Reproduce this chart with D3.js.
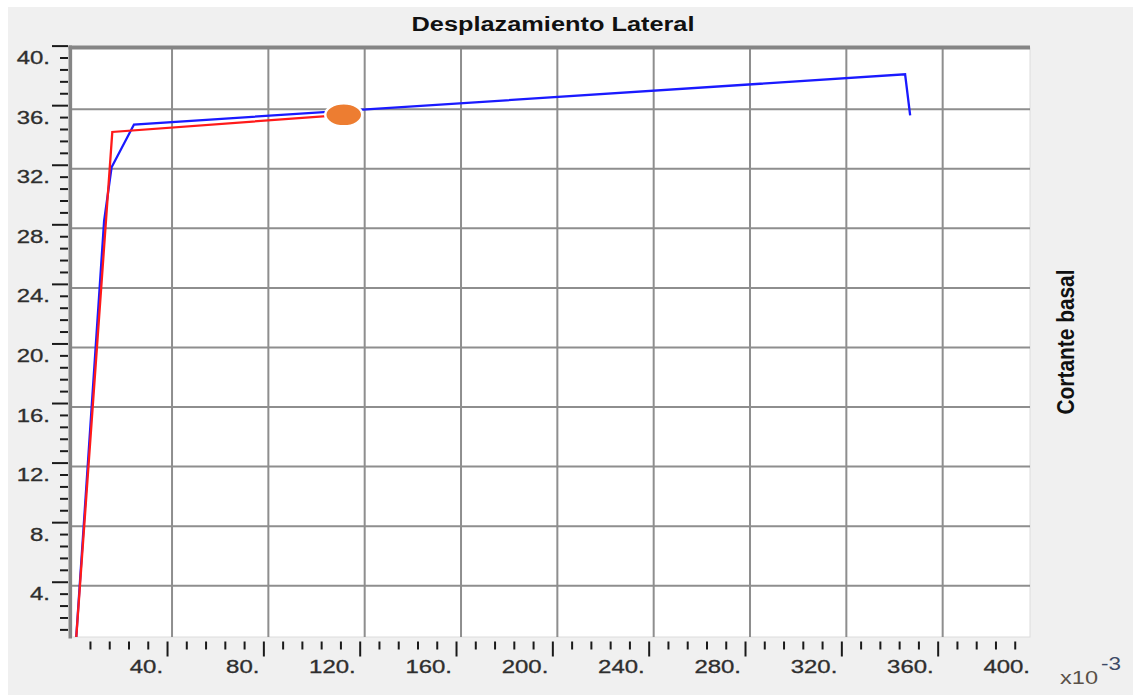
<!DOCTYPE html>
<html>
<head>
<meta charset="utf-8">
<script src="https://cdn.jsdelivr.net/npm/d3@7"></script>
<style>
  html, body { margin: 0; padding: 0; background: #ffffff; }
  svg { display: block; }
  text { font-family: "Liberation Sans", Arial, sans-serif; }
</style>
</head>
<body>
<svg id="chart" width="1133" height="695"></svg>
<script>
// Pushover curves: lateral displacement (x10^-3) vs base shear
const blueDisp  = [0, 11.8, 14.9, 24.2, 344.4, 346.5];
const blueShear = [0, 28.5, 32.1, 34.97, 38.34, 35.59];
const redDisp   = [0, 15.2, 111.3];
const redShear  = [0, 34.47, 35.62];

const xMajorTicks = [40, 80, 120, 160, 200, 240, 280, 320, 360, 400];
const yMajorTicks = [4, 8, 12, 16, 20, 24, 28, 32, 36, 40];
const xMinorStep = 8;
const yMinorStep = 0.8;

const titleText = "Desplazamiento Lateral";
const yTitleText = "Cortante basal";

const svg = d3.select("#chart");
const W = 1133, H = 695;
const plot = { left: 72, top: 48, right: 1030, bottom: 637 };

const x = d3.scaleLinear().domain([0, 400]).range([75.7, 1039]);
const y = d3.scaleLinear().domain([0, 40]).range([645.3, 49.6]);

// window background
svg.append("rect").attr("x", 8).attr("y", 7).attr("width", W - 8).attr("height", H - 7).attr("fill", "#f0f0f0");

// plot area
svg.append("rect")
  .attr("x", plot.left).attr("y", plot.top)
  .attr("width", plot.right - plot.left).attr("height", plot.bottom - plot.top)
  .attr("fill", "#ffffff").attr("stroke", "#dcdcdc").attr("stroke-width", 1);

svg.append("clipPath").attr("id", "plotClip").append("rect")
  .attr("x", plot.left).attr("y", plot.top)
  .attr("width", plot.right - plot.left).attr("height", plot.bottom - plot.top);

// grid
const grid = svg.append("g").attr("clip-path", "url(#plotClip)")
  .attr("stroke", "#8e8e8e").attr("stroke-width", 2);
grid.selectAll("line.gx").data(xMajorTicks.filter(v => x(v) < plot.right - 2)).join("line")
  .attr("class", "gx")
  .attr("x1", d => x(d)).attr("x2", d => x(d))
  .attr("y1", plot.top).attr("y2", plot.bottom);
grid.selectAll("line.gy").data(yMajorTicks.filter(v => y(v) > plot.top + 2)).join("line")
  .attr("class", "gy")
  .attr("x1", plot.left).attr("x2", plot.right)
  .attr("y1", d => y(d)).attr("y2", d => y(d));

// frame: top and left borders
svg.append("rect").attr("x", 68.5).attr("y", 45.5).attr("width", plot.right - 68.5).attr("height", 4).attr("fill", "#858585");
svg.append("rect").attr("x", 68.5).attr("y", 45.5).attr("width", 3.5).attr("height", 593).attr("fill", "#858585");

// curves
const line = d3.line().x(d => x(d[0])).y(d => y(d[1]));
const curves = svg.append("g").attr("clip-path", "url(#plotClip)");
curves.append("path")
  .datum(blueDisp.map((d, i) => [d, blueShear[i]]))
  .attr("d", line).attr("fill", "none")
  .attr("stroke", "#1a1aff").attr("stroke-width", 2.3).attr("stroke-linejoin", "miter");
curves.append("path")
  .datum(redDisp.map((d, i) => [d, redShear[i]]))
  .attr("d", line).attr("fill", "none")
  .attr("stroke", "#ff1a1a").attr("stroke-width", 2.3).attr("stroke-linejoin", "miter");

// performance point at the end of the red curve
const last = redDisp.length - 1;
svg.append("ellipse")
  .attr("cx", x(redDisp[last])).attr("cy", y(redShear[last]))
  .attr("rx", 18.5).attr("ry", 11.5)
  .attr("fill", "#ed7d31").attr("stroke", "#ffffff").attr("stroke-width", 2.5);

// stretch helper for text widths
function stretch(sel, k) {
  sel.each(function () {
    const len = this.getComputedTextLength();
    d3.select(this).attr("textLength", len * k).attr("lengthAdjust", "spacingAndGlyphs");
  });
}

const fmt = d => d + ".";

// x axis (ticks sit just left of the grid lines)
const xMinor = d3.range(xMinorStep, 400, xMinorStep).filter(v => v % 40 !== 0 && x(v) - 5 < plot.right);
const xAxisMinor = svg.append("g").attr("transform", "translate(-5,641.5)")
  .call(d3.axisBottom(x).tickValues(xMinor).tickSize(8).tickFormat(""));
const xAxisMajor = svg.append("g").attr("transform", "translate(-5,641.5)")
  .call(d3.axisBottom(x).tickValues(xMajorTicks).tickSize(15).tickFormat(fmt));
[xAxisMinor, xAxisMajor].forEach(g => {
  g.select(".domain").remove();
  g.selectAll("line").attr("stroke", "#1a1a1a").attr("stroke-width", 2);
});
xAxisMajor.selectAll(".tick").filter(d => x(d) - 5 > plot.right).select("line").remove();
xAxisMajor.selectAll("text")
  .attr("x", -4.5).attr("y", 31.8).attr("dy", null)
  .attr("text-anchor", "end")
  .attr("fill", "#2e2e2e").attr("font-size", 18)
  .attr("stroke", "#2e2e2e").attr("stroke-width", 0.3);
stretch(xAxisMajor.selectAll("text"), 1.33);

// y axis
const yMinor = d3.range(1, 50).map(i => +(i * yMinorStep).toFixed(1)).filter(v => v < 40 && Math.abs(v / 4 - Math.round(v / 4)) > 1e-6);
const yAxisMinor = svg.append("g").attr("transform", "translate(68,-4)")
  .call(d3.axisLeft(y).tickValues(yMinor).tickSize(8).tickFormat(""));
const yAxisMajor = svg.append("g").attr("transform", "translate(68,-4)")
  .call(d3.axisLeft(y).tickValues(yMajorTicks).tickSize(16).tickFormat(fmt));
[yAxisMinor, yAxisMajor].forEach(g => {
  g.select(".domain").remove();
  g.selectAll("line").attr("stroke", "#1a1a1a").attr("stroke-width", 2);
});
yAxisMajor.selectAll("text")
  .attr("x", -18).attr("y", 18).attr("dy", null)
  .attr("text-anchor", "end")
  .attr("fill", "#2e2e2e").attr("font-size", 18)
  .attr("stroke", "#2e2e2e").attr("stroke-width", 0.3);
stretch(yAxisMajor.selectAll("text"), 1.33);

// exponent note
const expo = svg.append("text").attr("x", 1060).attr("y", 684)
  .attr("fill", "#5a5048").attr("font-size", 19);
expo.append("tspan").attr("textLength", 38).attr("lengthAdjust", "spacingAndGlyphs").text("x10");
expo.append("tspan").attr("dx", 3).attr("dy", -14).attr("fill", "#3d4a66")
  .attr("textLength", 20).attr("lengthAdjust", "spacingAndGlyphs").text("-3");

// titles
const title = svg.append("text")
  .attr("x", 553).attr("y", 31)
  .attr("text-anchor", "middle").attr("font-weight", "bold")
  .attr("font-size", 20).attr("fill", "#111111")
  .text(titleText);
title.attr("textLength", 283).attr("lengthAdjust", "spacingAndGlyphs");

svg.append("text")
  .attr("transform", "translate(1074,342) scale(1.16,1) rotate(-90)")
  .attr("text-anchor", "middle").attr("font-weight", "bold")
  .attr("font-size", 20).attr("fill", "#111111")
  .attr("textLength", 145).attr("lengthAdjust", "spacingAndGlyphs")
  .text(yTitleText);
</script>
</body>
</html>
